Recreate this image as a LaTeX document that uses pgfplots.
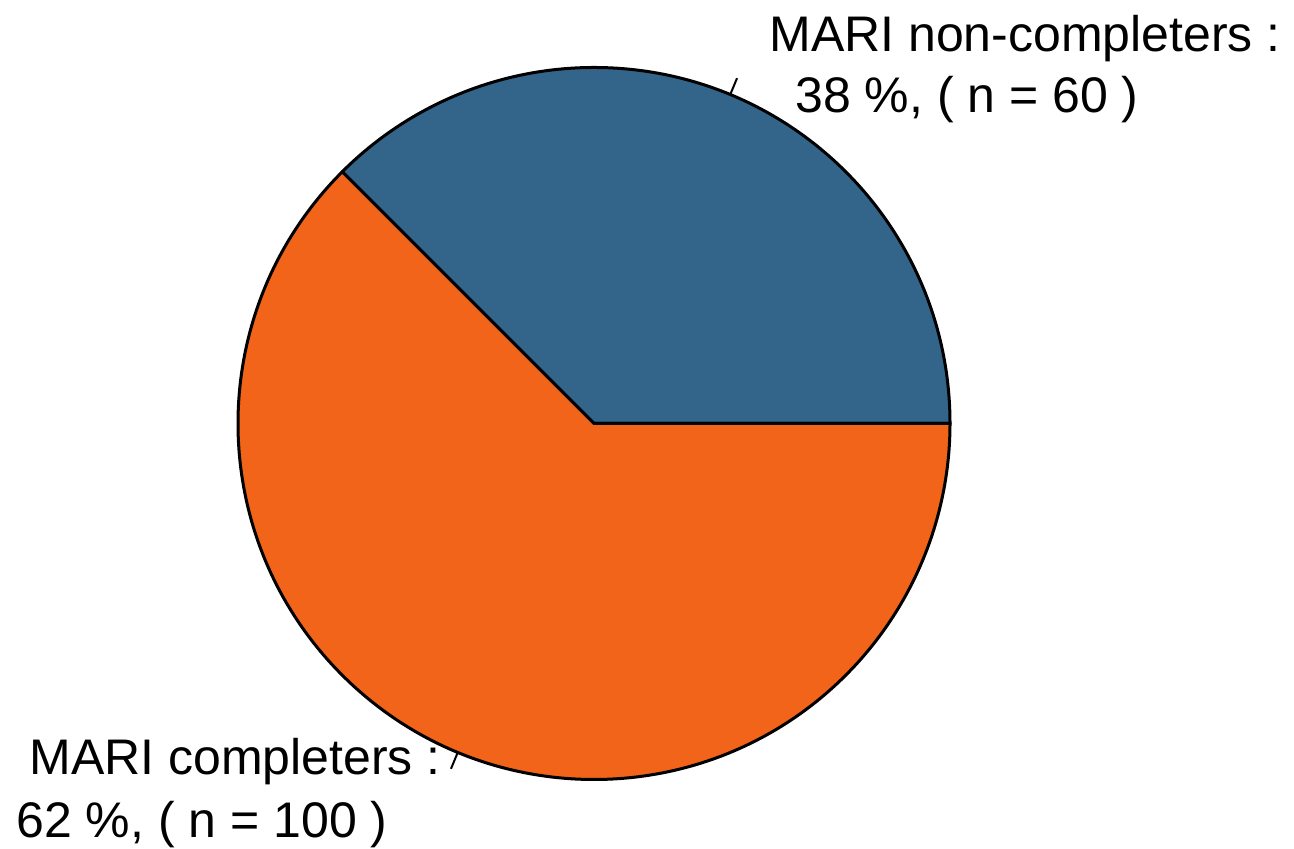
\documentclass[border=0pt]{standalone}
\usepackage{fontspec}
\setmainfont{Liberation Sans}
\usepackage{pgfplots}
\usepackage{pgfplotstable}
\pgfplotsset{compat=1.18}
\definecolor{pieblue}{HTML}{33658A}
\definecolor{pieorange}{HTML}{F26419}
\pgfplotstableread{
group n
completers 100
noncompleters 60
}\piedata
\begin{document}
\begin{tikzpicture}
\pgfplotstablegetelem{0}{n}\of\piedata \let\ncomp\pgfplotsretval
\pgfplotstablegetelem{1}{n}\of\piedata \let\nnon\pgfplotsretval
\pgfmathsetmacro{\total}{\ncomp+\nnon}
\pgfmathsetmacro{\angnon}{\nnon/\total*360}
\pgfmathsetmacro{\midnon}{\angnon/2}
\pgfmathsetmacro{\midcomp}{\angnon+(360-\angnon)/2}
\begin{axis}[
  hide axis, clip=false, scale only axis,
  x=0.5pt, y=0.5pt,
  xmin=0, xmax=1294, ymin=0, ymax=849,
]
\path (axis cs:0,0) rectangle (axis cs:1294,849);
% slices (radius 356 units = 178pt)
\filldraw[fill=pieblue, draw=black, line width=1.5pt, line join=round]
  (axis cs:594,425.5) -- ++(0:178pt) arc[start angle=0, end angle=\angnon, radius=178pt] -- cycle;
\filldraw[fill=pieorange, draw=black, line width=1.5pt, line join=round]
  (axis cs:594,425.5) -- ++(\angnon:178pt) arc[start angle=\angnon, end angle=360, radius=178pt] -- cycle;
% leader lines
\draw[black, line width=1pt] (axis cs:594,425.5) ++(\midnon:178pt) -- ++(\midnon:8.9pt);
\draw[black, line width=1pt] (axis cs:594,425.5) ++(\midcomp:178pt) -- ++(\midcomp:8.9pt);
% labels
\node[anchor=base west, inner sep=0pt, font=\fontsize{25pt}{30pt}\selectfont] at (axis cs:769,797) {MARI non-completers :};
\node[anchor=base west, inner sep=0pt, font=\fontsize{25pt}{30pt}\selectfont] at (axis cs:795,736) {38 \%, ( n = 60 )};
\node[anchor=base west, inner sep=0pt, font=\fontsize{25pt}{30pt}\selectfont] at (axis cs:29,74) {MARI completers :};
\node[anchor=base west, inner sep=0pt, font=\fontsize{25pt}{30pt}\selectfont] at (axis cs:16,11) {62 \%, ( n = 100 )};
\end{axis}
\end{tikzpicture}
\end{document}
